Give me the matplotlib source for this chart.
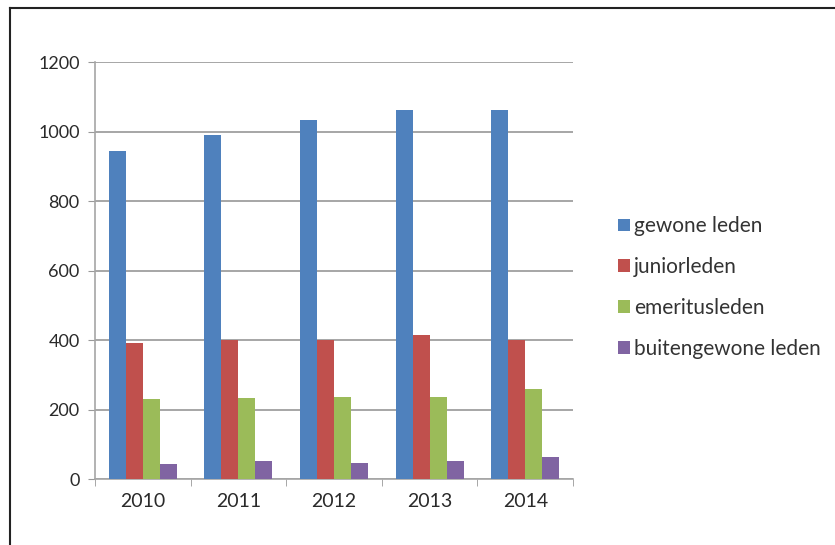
import numpy as np
import matplotlib
matplotlib.use("Agg")
import matplotlib.pyplot as plt
from matplotlib.lines import Line2D

plt.rcParams['font.family'] = ['Lato', 'DejaVu Sans']

# Data
years = ['2010', '2011', '2012', '2013', '2014']
gewone = [945, 990, 1033, 1062, 1062]
junior = [390, 400, 400, 414, 400]
emeritus = [229, 232, 235, 235, 258]
buitengewone = [43, 52, 47, 52, 63]

series = [
    ('gewone leden', gewone, '#4F81BD'),
    ('juniorleden', junior, '#C0504D'),
    ('emeritusleden', emeritus, '#9BBB59'),
    ('buitengewone leden', buitengewone, '#8064A2'),
]

fig = plt.figure(figsize=(8.35, 5.45), dpi=100)
ax = fig.add_axes([0.1138, 0.1211, 0.5725, 0.7651])

x = np.arange(len(years))
w = 0.178
for i, (name, vals, col) in enumerate(series):
    ax.bar(x + (i - 1.5) * w, vals, width=w, color=col, label=name, zorder=3)

ax.set_ylim(0, 1200)
ax.set_yticks(range(0, 1201, 200))
ax.set_xlim(-0.5, len(years) - 0.5)
ax.set_xticks(x)
ax.set_xticklabels(years)
ax.set_xticks(np.arange(-0.5, len(years), 1), minor=True)
ax.tick_params(axis='x', which='major', length=0, pad=10, labelsize=14, colors='#2a2a2a')
ax.tick_params(axis='x', which='minor', length=5, color='#999999', direction='out')
ax.tick_params(axis='y', length=5, color='#999999', labelsize=13, colors='#2a2a2a', pad=6)

ax.grid(axis='y', color='#a6a6a6', linewidth=1.4, zorder=0)
for s in ['top', 'right']:
    ax.spines[s].set_visible(False)
ax.spines['left'].set_color('#a6a6a6')
ax.spines['bottom'].set_color('#a6a6a6')
ax.spines['left'].set_linewidth(1.2)
ax.spines['bottom'].set_linewidth(1.2)

leg = fig.legend(loc='center left', bbox_to_anchor=(0.718, 0.4725), frameon=False,
                 fontsize=15, handlelength=0.55, handleheight=0.55, handletextpad=0.2,
                 labelspacing=1.0)
for t in leg.get_texts():
    t.set_color('#333333')

# frame lines of the original picture
fig.add_artist(Line2D([0.0125, 1.0], [0.986, 0.986], color='#222222', linewidth=1.5,
                      transform=fig.transFigure))
fig.add_artist(Line2D([0.0125, 0.0125], [0.0, 0.986], color='#222222', linewidth=1.5,
                      transform=fig.transFigure))

fig.savefig('out.png', dpi=100)
